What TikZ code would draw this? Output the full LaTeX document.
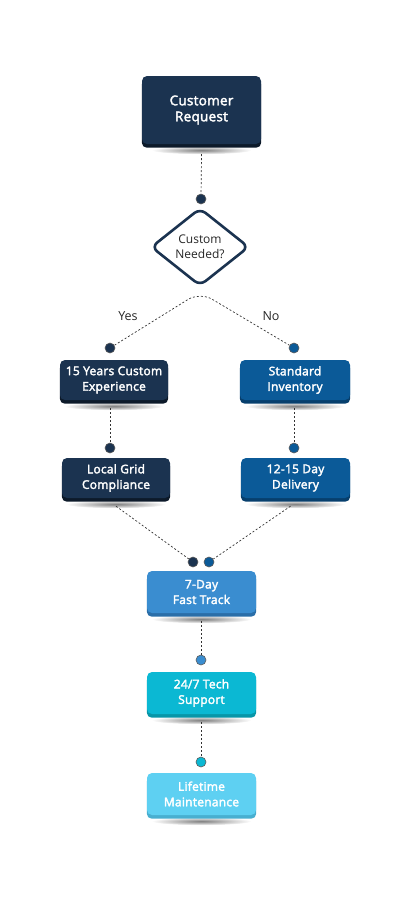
\documentclass[tikz,border=0pt]{standalone}
\usepackage{fontspec}
\setmainfont{Open Sans}
\newfontfamily\boxfont[FakeBold=2.6, LetterSpace=2]{Open Sans}
\usetikzlibrary{shapes.geometric,backgrounds}
\definecolor{cDark}{HTML}{1B3350}
\definecolor{cDarkE}{HTML}{0D1A2A}
\definecolor{cBlue}{HTML}{0B5A98}
\definecolor{cBlueE}{HTML}{073F6D}
\definecolor{cMid}{HTML}{3A8DD0}
\definecolor{cMidE}{HTML}{2A6EA8}
\definecolor{cCyan}{HTML}{0BB8D3}
\definecolor{cCyanE}{HTML}{0896A8}
\definecolor{cLight}{HTML}{5ED0F2}
\definecolor{cLightE}{HTML}{48AFD0}
\definecolor{cLine}{HTML}{333333}
\tikzset{
  stepbox/.style={rounded corners=5pt, inner sep=2pt, text=white, align=center,
    font=\boxfont\fontsize{12}{15.5}\selectfont, minimum height=40pt},
  conn/.style={draw=cLine, line width=0.7pt, dash pattern=on 2pt off 2pt},
  dotnode/.style={circle, minimum size=10pt, inner sep=0pt, draw=cLine!80, line width=0.6pt},
  lbl/.style={font=\fontsize{12.5}{15}\selectfont, text=black!85},
}
\begin{document}
\begin{tikzpicture}[x=1pt,y=-1pt]
\useasboundingbox (0,0) rectangle (400,900);
% boxes
\node[stepbox, fill=cDark, minimum width=119pt, minimum height=68pt, font=\boxfont\fontsize{13.5}{16}\selectfont] (req) at (201.5,110) {Customer\\Request};
\node[stepbox, fill=cDark, minimum width=108pt] (yes) at (114,380) {15 Years Custom\\Experience};
\node[stepbox, fill=cBlue, minimum width=110pt] (std) at (295,380) {Standard\\Inventory};
\node[stepbox, fill=cDark, minimum width=108pt] (loc) at (116,478) {Local Grid\\Compliance};
\node[stepbox, fill=cBlue, minimum width=109pt] (del) at (295.5,478) {12-15 Day\\Delivery};
\node[stepbox, fill=cMid, minimum width=109pt, minimum height=42pt] (fast) at (201.5,592) {7-Day\\Fast Track};
\node[stepbox, fill=cCyan, minimum width=109pt, minimum height=42pt] (tech) at (201.5,693) {24/7 Tech\\Support};
\node[stepbox, fill=cLight, minimum width=109pt, minimum height=42pt] (life) at (201.5,794) {Lifetime\\Maintenance};
% edges and shadows
\begin{pgfonlayer}{background}
\foreach \n/\c in {req/cDarkE, yes/cDarkE, std/cBlueE, loc/cDarkE, del/cBlueE, fast/cMidE, tech/cCyanE, life/cLightE}{
  \shade[inner color=black!50, outer color=white] ([yshift=-6pt]\n.south) ellipse (50pt and 4pt);
  \fill[\c, rounded corners=5pt] ([yshift=-3.5pt]\n.north west) rectangle ([yshift=-3.5pt]\n.south east);
}
\end{pgfonlayer}
% decision
\node[diamond, draw=cDark, fill=white, line width=2.6pt, rounded corners=7pt, aspect=1.25,
  minimum width=98pt, minimum height=78pt, inner sep=0pt, align=center,
  font=\fontsize{12}{15}\selectfont, text=black!85] (dec) at (200,247) {Custom\\Needed?};
% dots
\node[dotnode, fill=cDark] (d0) at (201,199) {};
\node[dotnode, fill=cDark] (dy) at (110,348) {};
\node[dotnode, fill=cBlue] (dn) at (294,348) {};
\node[dotnode, fill=cDark] (dy2) at (110,448) {};
\node[dotnode, fill=cBlue] (dn2) at (294,448) {};
\node[dotnode, fill=cDark] (df1) at (193,562) {};
\node[dotnode, fill=cBlue] (df2) at (209,562) {};
\node[dotnode, fill=cMid] (dt) at (201,660) {};
\node[dotnode, fill=cCyan] (dl) at (201,762) {};
\coordinate (apex) at (200,292);
% connectors
\draw[conn] ([yshift=-10pt]req.south) -- (d0);
\draw[conn, rounded corners=14pt] (dy) -- (apex) -- (dn);
\draw[conn] ([yshift=-8pt]yes.south -| dy2) -- (dy2);
\draw[conn] ([yshift=-8pt]std.south -| dn2) -- (dn2);
\draw[conn] ([yshift=-8pt]loc.south) -- (df1);
\draw[conn] ([yshift=-8pt,xshift=-5pt]del.south) -- (df2);
\draw[conn] ([yshift=-8pt]fast.south -| dt) -- (dt);
\draw[conn] ([yshift=-8pt]tech.south -| dl) -- (dl);
% labels
\node[lbl] (ly) at (128,316) {Yes};
\node[lbl] (ln) at (271,316) {No};
\end{tikzpicture}
\end{document}
